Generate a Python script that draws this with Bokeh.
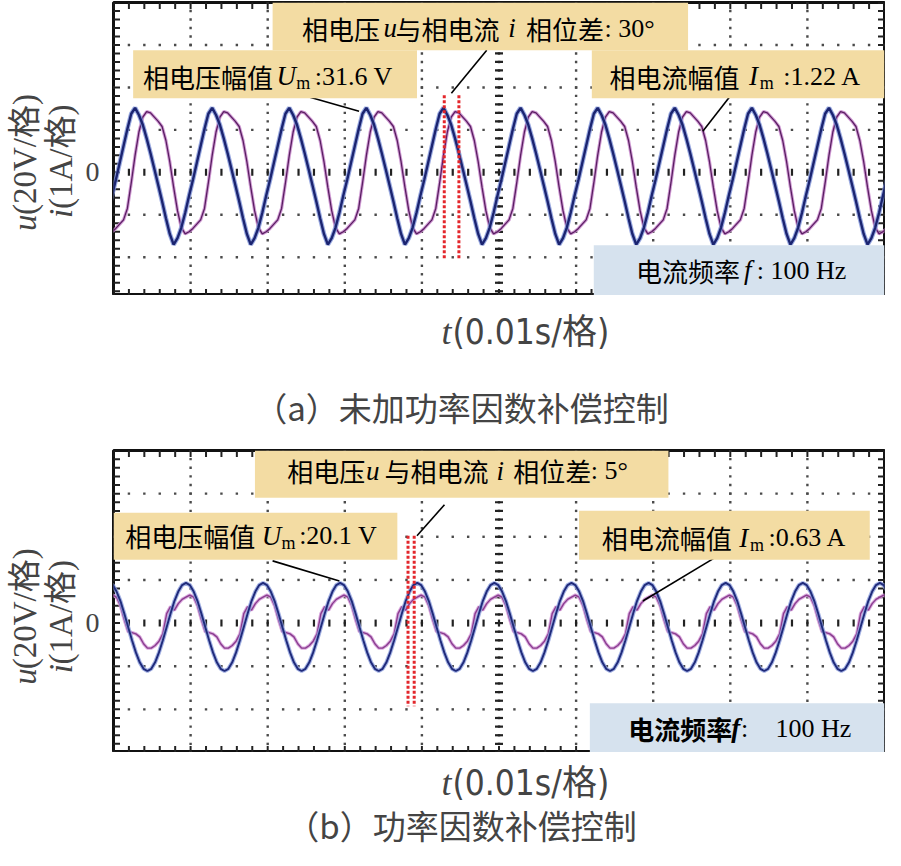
import math
from bokeh.plotting import figure
from bokeh.layouts import column, row
from bokeh.models import Label, BoxAnnotation, FixedTicker, Range1d
from bokeh.embed import file_html
from bokeh.resources import INLINE

# ---------------- data ----------------
PERIOD_DIV = 1.0          # 100 Hz at 0.01 s/div -> one period per division
U_SCALE = 20.0            # V per division
I_SCALE = 1.0             # A per division

# (a) without power factor compensation : one period, 20 samples, starting at a voltage peak
u_a_cycle = [30.4, 27.0, 22.4, 16.0, 9.0, 1.6, -6.0, -13.6, -21.6, -29.0,
             -34.0, -31.0, -26.0, -19.0, -11.0, -3.6, 4.4, 12.4, 20.4, 27.6]
i_a_cycle = [0.40, 0.95, 1.30, 1.43, 1.40, 1.30, 1.20, 1.08, 0.75, 0.25,
             -0.35, -0.90, -1.30, -1.45, -1.40, -1.32, -1.22, -1.12, -0.85, -0.25]
u_a_first_peak = 0.28      # div
marker_a_t = [4.29, 4.48]  # red phase markers (div)

# (b) with power factor compensation
u_b_cycle = [18.6, 17.6, 14.6, 10.2, 4.4, -1.8, -8.0, -13.6, -18.2, -21.2,
             -22.2, -21.2, -18.2, -13.6, -8.0, -1.8, 4.4, 10.2, 14.6, 17.6]
i_b_cycle = [0.60, 0.65, 0.60, 0.40, 0.08, -0.20, -0.22, -0.25, -0.32, -0.48,
             -0.58, -0.58, -0.52, -0.42, -0.25, 0.22, 0.38, 0.30, 0.45, 0.55]
u_b_first_peak = 0.94
marker_b_t = [3.82, 3.90]

N_CYCLES = 12

TAN = "#f3dca3"
BLUE_BOX = "#d6e2ee"
CJK = "Noto Sans CJK SC"
SERIF = "Liberation Serif"
MIXED = "'Liberation Serif', 'Noto Sans CJK SC'"
NARROW = "'Liberation Sans Narrow', 'DejaVu Sans Condensed', 'Noto Sans CJK SC'"
W = 885
LEFT_W = 80


def tile(cycle, first_peak, scale):
    n = len(cycle)
    t0 = first_peak - PERIOD_DIV
    ts, vs = [], []
    for k in range(n * N_CYCLES + 1):
        ts.append(t0 + k * PERIOD_DIV / n)
        vs.append(cycle[k % n] / scale)
    return ts, vs


def X(px):
    return (px - 113) / 78.5


def make_panel(height, b_top, y_lo):
    p = figure(width=W - LEFT_W, height=height, x_range=Range1d(0, 10), y_range=Range1d(y_lo, 4),
               output_backend="svg", toolbar_location=None, title=None,
               min_border_left=113 - LEFT_W, min_border_right=1,
               min_border_top=b_top, min_border_bottom=0)
    p.xaxis.visible = False
    p.grid.visible = False
    ax = p.yaxis[0]
    ax.ticker = FixedTicker(ticks=[0])
    ax.major_tick_line_color = None
    ax.minor_tick_line_color = None
    ax.axis_line_color = None
    ax.major_label_text_font = SERIF
    ax.major_label_text_font_size = "28px"
    ax.major_label_standoff = 8
    p.outline_line_color = "#111111"
    p.outline_line_width = 3
    p.background_fill_color = "white"
    p.border_fill_color = "white"

    # dotted graticule
    dx, dy = [], []
    for gx in range(1, 10):
        for k in range(36):
            dx.append(gx); dy.append(-3 + k * 0.2)
    for gy in range(-2, 4):
        if gy == 0:
            continue
        for k in range(51):
            dx.append(k * 0.2); dy.append(gy)
    p.scatter(dx, dy, marker="square", size=2.4, color="#4a4a4a", line_color=None)

    ty = [-3 + k * 0.2 for k in range(36)]
    tx = [k * 0.2 for k in range(51)]
    tc = "#222222"
    p.scatter([5] * len(ty), ty, marker="dash", size=8, line_width=2.2, line_color=tc)
    p.scatter([0] * len(ty), ty, marker="dash", size=13, line_width=2, line_color=tc)
    p.scatter([10] * len(ty), ty, marker="dash", size=13, line_width=2, line_color=tc)
    p.scatter(tx, [0] * len(tx), marker="dash", angle=math.pi / 2, size=7, line_width=2.2, line_color=tc)
    p.scatter(tx, [4] * len(tx), marker="dash", angle=math.pi / 2, size=13, line_width=2, line_color=tc)
    p.scatter(tx, [y_lo] * len(tx), marker="dash", angle=math.pi / 2, size=13, line_width=2, line_color=tc)
    return p


def text_fig(w, h, y_top):
    f = figure(width=w, height=h, x_range=Range1d(0, w), y_range=Range1d(y_top + h, y_top),
               output_backend="svg", toolbar_location=None, title=None,
               min_border_left=0, min_border_right=0, min_border_top=0, min_border_bottom=0)
    f.axis.visible = False
    f.grid.visible = False
    f.outline_line_color = None
    f.background_fill_color = "white"
    f.border_fill_color = "white"
    return f


def add_waves(p, u_cycle, i_cycle, first_peak, u_halo, u_core, u_w, i_halo, i_core, i_w):
    ti, iv = tile(i_cycle, first_peak, I_SCALE)
    p.line(ti, iv, line_color=i_halo, line_width=i_w + 2.0, line_alpha=0.85)
    p.line(ti, iv, line_color=i_core, line_width=i_w)
    tu, uv = tile(u_cycle, first_peak, U_SCALE)
    p.line(tu, uv, line_color=u_halo, line_width=u_w + 2.2, line_alpha=0.8)
    p.line(tu, uv, line_color=u_core, line_width=u_w)


def add_box(p, x0, x1, y0, y1, color):
    p.add_layout(BoxAnnotation(left=x0, right=x1, top=y0, bottom=y1,
                               fill_color=color, fill_alpha=1.0, line_color=None))


STYLE = {
    "cjk": (CJK, "26px", "normal"),
    "cjkb": (CJK, "26px", "bold"),
    "latin": (SERIF, "26px", "normal"),
    "it": (SERIF, "27px", "italic"),
    "itb": (SERIF, "27px", "bold italic"),
    "sub": (SERIF, "18px", "normal"),
}


def add_pieces(p, pieces, ymap):
    for px, py, txt, kind in pieces:
        font, size, style = STYLE[kind]
        p.add_layout(Label(x=X(px), y=ymap(py), text=txt, text_font=font,
                           text_font_size=size, text_font_style=style,
                           text_align="left", text_baseline="middle", text_color="black"))


def ylab_fig(h, y_top, rows):
    f = text_fig(LEFT_W, h, y_top)
    for px, py_start, letter, rest, shift in rows:
        f.add_layout(Label(x=px, y=py_start, text=letter, angle=90, angle_units="deg",
                           text_font=SERIF, text_font_size="33px", text_font_style="italic",
                           text_align="left", text_baseline="middle"))
        f.add_layout(Label(x=px, y=py_start - shift, text=rest, angle=90, angle_units="deg",
                           text_font=MIXED, text_font_size="33px",
                           text_align="left", text_baseline="middle"))
    return f


def xlab_fig(h, y_top, xlab_y, caption, cap_y):
    f = text_fig(W, h, y_top)
    f.add_layout(Label(x=441, y=xlab_y, text="t", text_font=SERIF,
                       text_font_size="36px", text_font_style="italic",
                       text_align="left", text_baseline="middle"))
    f.add_layout(Label(x=452, y=xlab_y, text="(0.01s/格)", text_font=NARROW,
                       text_font_size="35px", text_align="left", text_baseline="middle"))
    f.add_layout(Label(x=461, y=cap_y, text=caption, text_font=CJK,
                       text_font_size="33px", text_align="center", text_baseline="middle"))
    return f


# ================= panel (a) =================
def Ya(py):
    return (172 - py) / 42.46

pa = make_panel(295, 2, -2.9)
add_waves(pa, u_a_cycle, i_a_cycle, u_a_first_peak,
          "#7f93d8", "#1b2470", 2.4, "#c889cd", "#5a1e62", 1.3)
pa.segment(x0=marker_a_t, y0=[Ya(95)] * 2, x1=marker_a_t, y1=[Ya(258)] * 2,
           line_color="#e3262b", line_width=3, line_dash="3 2")
pa.segment(x0=[X(313), X(493), X(740)], y0=[Ya(97), Ya(50), Ya(97)],
           x1=[X(363), X(457), X(713)], y1=[Ya(111), Ya(93), Ya(131)],
           line_color="black", line_width=1.6)
add_box(pa, X(275), X(698), 4.0, Ya(50), TAN)
add_box(pa, X(133), X(422), Ya(50), Ya(98), TAN)
add_box(pa, X(600), 10.0, Ya(50), Ya(98), TAN)
add_box(pa, X(602), 10.0, Ya(245), -2.9, BLUE_BOX)
add_pieces(pa, [
    (305, 28, "相电压", "cjk"), (388, 28, "u", "it"), (400, 28, "与相电流", "cjk"),
    (515, 28, "i", "it"), (533, 28, "相位差", "cjk"), (613, 28, ": 30°", "latin"),
    (143, 76, "相电压幅值", "cjk"), (279, 76, "U", "it"), (299, 83, "m", "sub"),
    (318, 76, ":31.6 V", "latin"),
    (618, 76, "相电流幅值", "cjk"), (760, 76, "I", "it"), (771, 83, "m", "sub"),
    (795, 76, ":1.22 A", "latin"),
    (645, 270, "电流频率", "cjk"), (755, 270, "f", "it"), (768, 270, ": 100 Hz", "latin"),
], Ya)
ya = ylab_fig(295, 0, [(24, 230, "u", "(20V/格)", 16), (60, 217, "i", "(1A/格)", 9)])
xa = xlab_fig(145, 295, 331, "（a）未加功率因数补偿控制", 406)

# ================= panel (b) =================
def Yb(py):
    return (625 - py) / 43.0

pb = make_panel(312, 10, -3.0)
add_waves(pb, u_b_cycle, i_b_cycle, u_b_first_peak,
          "#8c9edc", "#1f2a7a", 1.9, "#d49ad8", "#8a3d8f", 1.4)
pb.segment(x0=marker_b_t, y0=[Yb(538)] * 2, x1=marker_b_t, y1=[Yb(708)] * 2,
           line_color="#e3262b", line_width=3, line_dash="3 2")
pb.segment(x0=[X(275), X(450), X(725)], y0=[Yb(563), Yb(507), Yb(560)],
           x1=[X(343), X(422), X(652)], y1=[Yb(583), Yb(538), Yb(603)],
           line_color="black", line_width=1.6)
add_box(pb, X(257), X(678), Yb(453), Yb(500), TAN)
add_box(pb, 0.0, X(402), Yb(515), Yb(562), TAN)
add_box(pb, X(587), X(883), Yb(513), Yb(562), TAN)
add_box(pb, X(598), 10.0, Yb(705), -3.0, BLUE_BOX)
add_pieces(pb, [
    (290, 473, "相电压", "cjk"), (370, 473, "u", "it"), (389, 473, "与相电流", "cjk"),
    (503, 473, "i", "it"), (520, 473, "相位差", "cjk"), (599, 473, ": 5°", "latin"),
    (125, 538, "相电压幅值", "cjk"), (264, 538, "U", "it"), (284, 545, "m", "sub"),
    (302, 538, ":20.1 V", "latin"),
    (610, 540, "相电流幅值", "cjk"), (750, 540, "I", "it"), (761, 547, "m", "sub"),
    (780, 540, ":0.63 A", "latin"),
    (637, 730, "电流频率", "cjkb"), (742, 730, "f", "itb"), (752, 730, ":", "latin"),
    (787, 730, "100 Hz", "latin"),
], Yb)
yb = ylab_fig(312, 440, [(24, 682, "u", "(20V/格)", 16), (60, 670, "i", "(1A/格)", 9)])
xb = xlab_fig(98, 752, 782, "（b）功率因数补偿控制", 824)

layout = column(row(ya, pa, spacing=0), xa, row(yb, pb, spacing=0), xb, spacing=0)
open("out.html", "w").write(file_html(layout, INLINE))
